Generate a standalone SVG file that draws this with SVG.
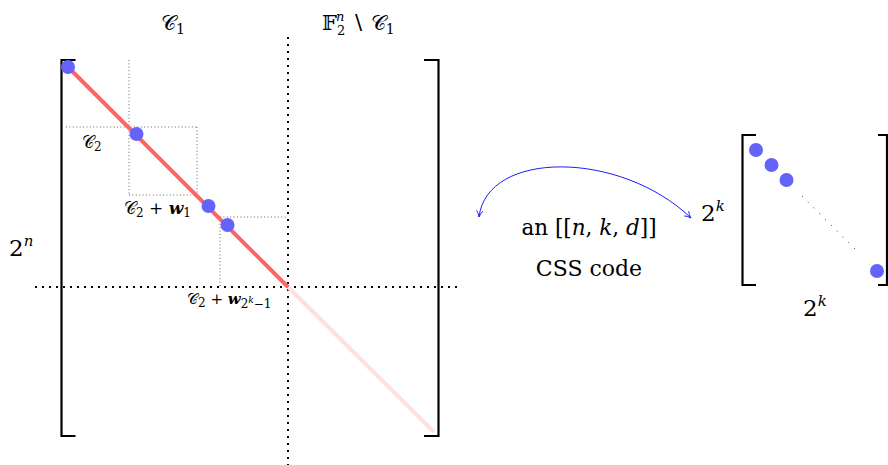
<svg xmlns="http://www.w3.org/2000/svg" width="888" height="465" viewBox="0 0 888 465">
<style>
.br{fill:none;stroke:#000;stroke-width:2.2}
.thin{fill:none;stroke:#555;stroke-width:0.9;stroke-dasharray:1 2.4}
.big{fill:none;stroke:#000;stroke-width:2;stroke-dasharray:2 5}
text{font-family:'DejaVu Serif',serif;fill:#000}
.m{font-style:italic}
.cal{font-family:'DejaVu Serif','DejaVu Sans',serif;font-style:normal;font-weight:normal}
.dot{fill:#6464fa}
.arc{fill:none;stroke:#1a1aff;stroke-width:1}
</style>
<defs>
<marker id="ah" viewBox="0 0 10 10" refX="9" refY="5" markerWidth="8" markerHeight="8" orient="auto-start-reverse" markerUnits="userSpaceOnUse">
<path d="M1 1 Q5 4 9 5 Q5 6 1 9" fill="none" stroke="#1a1aff" stroke-width="1.1"/>
</marker>
</defs>

<g id="big-matrix">
<path class="br" d="M75.5 60 H61.5 V436 H75.5"/>
<path class="br" d="M424 60 H438.5 V436 H424"/>
</g>

<g id="grid">
<path class="thin" d="M129 60 V195 M66 127 H197 M197 127 V195 M129 195 H197"/>
<path class="thin" d="M220 217 H288 M220 217 V287"/>
<path class="big" d="M288 37 V465"/>
<path class="big" d="M35 287 H462"/>
</g>

<g id="diagonal">
<line x1="67" y1="66" x2="288" y2="287" stroke="#ff6464" stroke-width="4"/>
<line x1="288" y1="287" x2="434" y2="432" stroke="#ffe0e0" stroke-width="4"/>
</g>

<g id="dots">
<circle class="dot" cx="68" cy="67" r="7"/>
<circle class="dot" cx="136.5" cy="134" r="7"/>
<circle class="dot" cx="208.5" cy="206" r="7"/>
<circle class="dot" cx="227.5" cy="225" r="7"/>
</g>

<g id="labels">
<text x="161" y="30" font-size="21"><tspan class="cal">𝒞</tspan><tspan font-size="14" dy="4">1</tspan></text>
<text x="322" y="30" font-size="21"><tspan class="cal">𝔽</tspan><tspan font-size="13" dy="5">2</tspan></text>
<text x="336" y="21" font-size="13" class="m">n</text>
<text x="351" y="30" font-size="21">∖ <tspan class="cal">𝒞</tspan><tspan font-size="14" dy="4">1</tspan></text>
<text x="82" y="148" font-size="17"><tspan class="cal">𝒞</tspan><tspan font-size="12" dy="3">2</tspan></text>
<text x="124" y="214" font-size="17"><tspan class="cal">𝒞</tspan><tspan font-size="12" dy="3">2</tspan><tspan dy="-3"> + </tspan><tspan font-weight="bold" font-style="italic">w</tspan><tspan font-size="12" dy="3">1</tspan></text>
<text x="187" y="304" font-size="15"><tspan class="cal">𝒞</tspan><tspan font-size="12" dy="3">2</tspan><tspan dy="-3"> + </tspan><tspan font-weight="bold" font-style="italic">w</tspan><tspan font-size="12" dy="4">2</tspan><tspan class="m" font-size="9" dy="-5">k</tspan><tspan font-size="12" dy="5">−1</tspan></text>
<text x="9" y="256" font-size="23">2<tspan class="m" font-size="15" dy="-10">n</tspan></text>
</g>

<g id="connectors">
<path class="arc" d="M479 217 C487 150 620 150 691 218" marker-start="url(#ah)" marker-end="url(#ah)"/>
</g>

<g id="css-label">
<text x="589" y="235" font-size="21.5" text-anchor="middle">an [[<tspan class="m">n</tspan>, <tspan class="m">k</tspan>, <tspan class="m">d</tspan>]]</text>
<text x="589" y="276" font-size="22" text-anchor="middle">CSS code</text>
</g>

<g id="small-matrix">
<path class="br" d="M756 135 H742.5 V285 H756"/>
<path class="br" d="M878 135 H887 V285 H878"/>
<circle class="dot" cx="756" cy="150" r="7"/>
<circle class="dot" cx="771.5" cy="165" r="7"/>
<circle class="dot" cx="786.5" cy="180" r="7"/>
<circle class="dot" cx="877" cy="271" r="7"/>
<path d="M802 196 L860 254" fill="none" stroke="#333" stroke-width="1" stroke-dasharray="1 7.2"/>
<text x="701" y="221" font-size="23">2<tspan class="m" font-size="15" dy="-10">k</tspan></text>
<text x="803" y="316" font-size="23">2<tspan class="m" font-size="15" dy="-10">k</tspan></text>
</g>
</svg>
